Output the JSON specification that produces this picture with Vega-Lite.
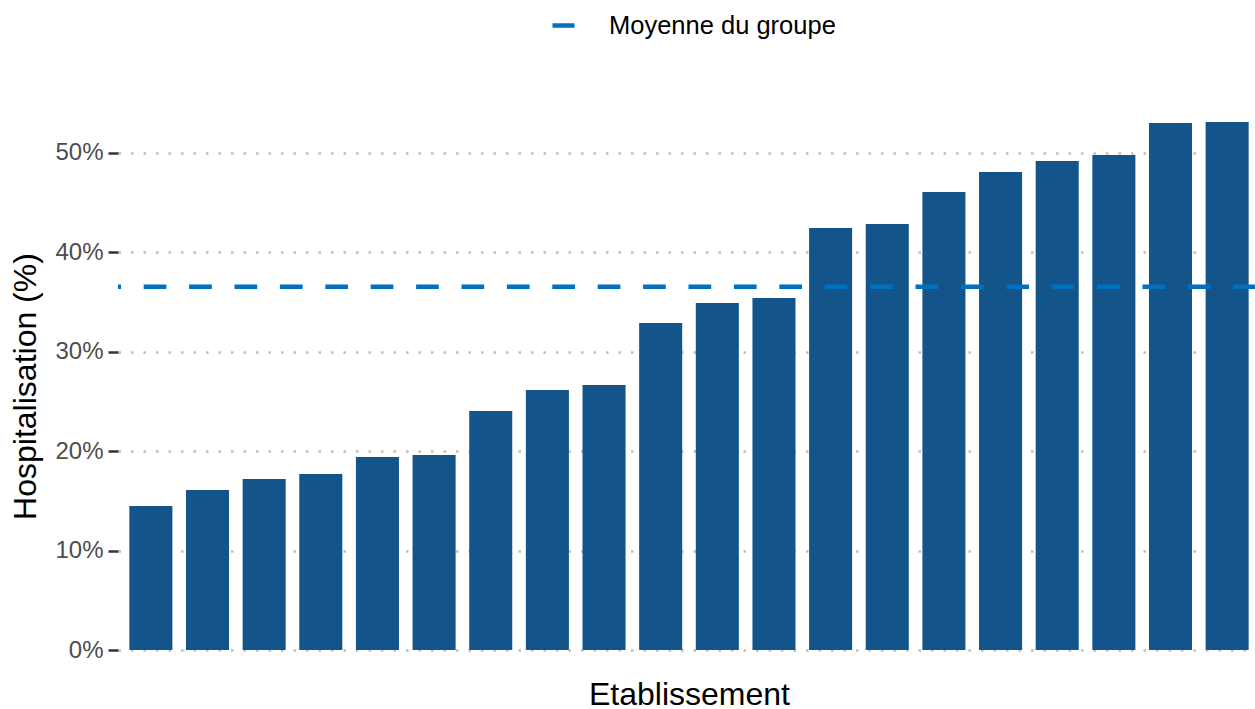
{
  "$schema": "https://vega.github.io/schema/vega-lite/v6.json",
  "autosize": "none",
  "width": 1138,
  "height": 528,
  "padding": {"left": 118, "top": 122, "right": 0, "bottom": 59},
  "background": "white",
  "config": {
    "view": {"stroke": null},
    "font": "Liberation Sans"
  },
  "datasets": {
    "bars": [
      {"etab": "E01", "hosp": 0.1448},
      {"etab": "E02", "hosp": 0.1609},
      {"etab": "E03", "hosp": 0.1719},
      {"etab": "E04", "hosp": 0.1770},
      {"etab": "E05", "hosp": 0.1940},
      {"etab": "E06", "hosp": 0.1961},
      {"etab": "E07", "hosp": 0.2403},
      {"etab": "E08", "hosp": 0.2614},
      {"etab": "E09", "hosp": 0.2664},
      {"etab": "E10", "hosp": 0.3288},
      {"etab": "E11", "hosp": 0.3489},
      {"etab": "E12", "hosp": 0.3539},
      {"etab": "E13", "hosp": 0.4243},
      {"etab": "E14", "hosp": 0.4283},
      {"etab": "E15", "hosp": 0.4605},
      {"etab": "E16", "hosp": 0.4806},
      {"etab": "E17", "hosp": 0.4917},
      {"etab": "E18", "hosp": 0.4977},
      {"etab": "E19", "hosp": 0.5299},
      {"etab": "E20", "hosp": 0.5309}
    ],
    "moyenne": [
      {"serie": "Moyenne du groupe", "valeur": 0.3653}
    ]
  },
  "layer": [
    {
      "data": {"name": "bars"},
      "mark": {"type": "bar", "color": "#13558A"},
      "encoding": {
        "x": {
          "field": "etab",
          "type": "nominal",
          "sort": null,
          "scale": {"paddingInner": 0.24, "paddingOuter": 0.2, "range": [0, 1142]},
          "axis": {
            "title": "Etablissement",
            "labels": false,
            "ticks": false,
            "domain": false,
            "titleFontSize": 32,
            "titleFontWeight": "normal",
            "titleColor": "#000000",
            "titlePadding": 29
          }
        },
        "y": {
          "field": "hosp",
          "type": "quantitative",
          "scale": {"domain": [0, 0.5309], "nice": false},
          "axis": {
            "title": "Hospitalisation (%)",
            "values": [0, 0.1, 0.2, 0.3, 0.4, 0.5],
            "format": ".0%",
            "labelFontSize": 24,
            "labelColor": "#4D4D4D",
            "labelPadding": 5,
            "tickSize": 10,
            "tickWidth": 2.5,
            "tickColor": "#333333",
            "domain": false,
            "grid": true,
            "gridColor": "#BEBEBE",
            "gridDash": [2.5, 10],
            "gridWidth": 2.5,
            "titleFontSize": 32,
            "titleFontWeight": "normal",
            "titleColor": "#000000",
            "titlePadding": 12
          }
        }
      }
    },
    {
      "data": {"name": "moyenne"},
      "mark": {"type": "rule", "strokeDash": [22.7, 22.7], "strokeWidth": 4.5},
      "encoding": {
        "y": {"field": "valeur", "type": "quantitative"},
        "color": {
          "field": "serie",
          "type": "nominal",
          "scale": {"range": ["#0070C0"]},
          "legend": {
            "title": null,
            "orient": "none",
            "legendX": 432,
            "legendY": -110,
            "direction": "horizontal",
            "symbolType": "stroke",
            "symbolSize": 484,
            "symbolStrokeWidth": 4.5,
            "symbolDash": [30, 1],
            "labelFontSize": 25.5,
            "labelColor": "#000000",
            "labelOffset": 32,
            "labelLimit": 500
          }
        }
      }
    }
  ]
}
